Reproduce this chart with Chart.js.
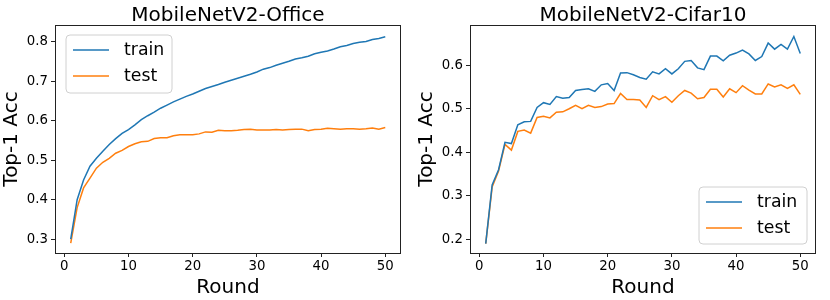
<!DOCTYPE html>
<html><head><meta charset="utf-8">
<script src="https://cdn.jsdelivr.net/npm/chart.js@4"></script>
<style>
html,body{margin:0;padding:0;background:#fff;}
#wrap{position:relative;width:830px;height:300px;}
.c{position:absolute;top:0;width:415px;height:300px;}
</style></head>
<body><div id="wrap">
<div class="c" style="left:0"><canvas id="c1" width="415" height="300"></canvas></div>
<div class="c" style="left:415px"><canvas id="c2" width="415" height="300"></canvas></div>
</div>
<script>
const rounds = Array.from({length:50},(_,i)=>i+1);
const xTicks = [0,10,20,30,40,50];
const officeYTicks = [0.3,0.4,0.5,0.6,0.7,0.8];
const cifarYTicks = [0.2,0.3,0.4,0.5,0.6];
const titles = ["MobileNetV2-Office","MobileNetV2-Cifar10"];
const seriesLabels = ["train","test"];

const officeTrain = [0.300,0.400,0.450,0.485,0.505,0.523,0.540,0.555,0.568,0.578,0.590,0.603,0.613,0.622,0.632,0.640,0.648,0.655,0.662,0.668,0.675,0.682,0.687,0.692,0.698,0.703,0.708,0.713,0.718,0.724,0.731,0.735,0.741,0.746,0.751,0.757,0.760,0.764,0.770,0.774,0.777,0.782,0.788,0.791,0.796,0.799,0.801,0.806,0.809,0.813];
const officeTest = [0.290,0.380,0.430,0.455,0.480,0.495,0.505,0.518,0.525,0.535,0.542,0.547,0.548,0.555,0.557,0.557,0.562,0.565,0.565,0.565,0.567,0.572,0.571,0.576,0.575,0.575,0.576,0.578,0.579,0.577,0.577,0.577,0.578,0.577,0.578,0.579,0.579,0.575,0.578,0.579,0.581,0.580,0.579,0.580,0.580,0.579,0.580,0.582,0.579,0.583];
const cifarTrain = [0.190,0.325,0.360,0.423,0.420,0.463,0.470,0.471,0.503,0.514,0.510,0.528,0.524,0.526,0.542,0.544,0.546,0.540,0.555,0.558,0.542,0.582,0.583,0.578,0.572,0.568,0.585,0.580,0.592,0.580,0.592,0.609,0.611,0.594,0.590,0.621,0.621,0.610,0.623,0.628,0.635,0.626,0.611,0.620,0.651,0.637,0.648,0.637,0.666,0.627];
const cifarTest = [0.190,0.320,0.357,0.418,0.405,0.448,0.451,0.444,0.480,0.483,0.479,0.492,0.493,0.500,0.508,0.500,0.508,0.503,0.505,0.511,0.512,0.535,0.521,0.521,0.520,0.503,0.530,0.521,0.528,0.515,0.530,0.542,0.536,0.523,0.526,0.545,0.545,0.527,0.546,0.537,0.553,0.543,0.534,0.534,0.557,0.550,0.555,0.547,0.555,0.533];

const BLUE = '#1f77b4', ORANGE = '#ff7f0e';
const FONT = "'DejaVu Sans', sans-serif";

function makeChart(id, title, train, test, yTicks, yMin, yMax, legendBox) {
  const framePlugin = {
    id: 'frame',
    afterDraw(chart) {
      const {ctx, chartArea: a} = chart;
      ctx.save();
      ctx.strokeStyle = '#222';
      ctx.lineWidth = 1;
      ctx.strokeRect(Math.round(a.left)+0.5, Math.round(a.top)+0.5, Math.round(a.right-a.left)-1, Math.round(a.bottom-a.top));
      // title
      ctx.fillStyle = '#000';
      ctx.font = "20px " + FONT;
      ctx.textAlign = 'center';
      ctx.textBaseline = 'alphabetic';
      ctx.fillText(title, (a.left+a.right)/2, 21);
      // legend
      const b = legendBox;
      ctx.beginPath();
      const r = 4;
      ctx.moveTo(b.x+r, b.y);
      ctx.arcTo(b.x+b.w, b.y, b.x+b.w, b.y+b.h, r);
      ctx.arcTo(b.x+b.w, b.y+b.h, b.x, b.y+b.h, r);
      ctx.arcTo(b.x, b.y+b.h, b.x, b.y, r);
      ctx.arcTo(b.x, b.y, b.x+b.w, b.y, r);
      ctx.closePath();
      ctx.fillStyle = 'rgba(255,255,255,0.8)';
      ctx.fill();
      ctx.strokeStyle = '#d0d0d0';
      ctx.lineWidth = 1;
      ctx.stroke();
      chart.data.datasets.forEach((ds, i) => {
        const y = b.y + 15 + i*26;
        ctx.beginPath();
        ctx.moveTo(b.x+7, y);
        ctx.lineTo(b.x+43, y);
        ctx.strokeStyle = ds.borderColor;
        ctx.lineWidth = 1.5;
        ctx.stroke();
        ctx.fillStyle = '#000';
        ctx.font = "17.3px " + FONT;
        ctx.textAlign = 'left';
        ctx.textBaseline = 'middle';
        ctx.fillText(ds.label, b.x+58, y+1);
      });
      ctx.restore();
    }
  };
  return new Chart(document.getElementById(id), {
    type: 'line',
    data: {
      datasets: [
        {label: seriesLabels[0], data: rounds.map((r,i)=>({x:r, y:train[i]})), borderColor: BLUE, borderWidth: 1.5, pointRadius: 0, fill: false, tension: 0},
        {label: seriesLabels[1], data: rounds.map((r,i)=>({x:r, y:test[i]})), borderColor: ORANGE, borderWidth: 1.5, pointRadius: 0, fill: false, tension: 0}
      ]
    },
    plugins: [framePlugin],
    options: {
      responsive: false,
      animation: false,
      devicePixelRatio: 1,
      layout: {padding: {left: 0, right: 14, top: 25, bottom: 0}},
      plugins: {legend: {display: false}, title: {display: false}, tooltip: {enabled: false}},
      scales: {
        x: {
          type: 'linear', min: -1.45, max: 52.45,
          afterBuildTicks: s => { s.ticks = xTicks.map(v => ({value: v})); },
          afterFit: s => { s.height = 47; },
          ticks: {color: '#000', font: {family: FONT, size: 13.3}, padding: 2, maxRotation: 0, autoSkip: false, callback: v => String(v)},
          grid: {display: true, drawOnChartArea: false, drawTicks: true, tickLength: 4, color: '#222', lineWidth: 1},
          border: {display: false},
          title: {display: true, text: 'Round', color: '#000', font: {family: FONT, size: 20}, padding: {top: 0, bottom: 0}}
        },
        y: {
          type: 'linear', min: yMin, max: yMax,
          afterBuildTicks: s => { s.ticks = yTicks.map(v => ({value: v})); },
          afterFit: s => { s.width = 55; },
          ticks: {color: '#000', font: {family: FONT, size: 13.3}, padding: 3, autoSkip: false, callback: v => v.toFixed(1)},
          grid: {display: true, drawOnChartArea: false, drawTicks: true, tickLength: 4, color: '#222', lineWidth: 1},
          border: {display: false},
          title: {display: true, text: 'Top-1 Acc', color: '#000', font: {family: FONT, size: 20}, padding: {top: 0, bottom: 0}}
        }
      }
    }
  });
}

makeChart('c1', titles[0], officeTrain, officeTest, officeYTicks, 0.265, 0.843, {x: 66, y: 35, w: 106, h: 58});
makeChart('c2', titles[1], cifarTrain, cifarTest, cifarYTicks, 0.1685, 0.6925, {x: 284, y: 187, w: 108, h: 57});
</script>
</body></html>
